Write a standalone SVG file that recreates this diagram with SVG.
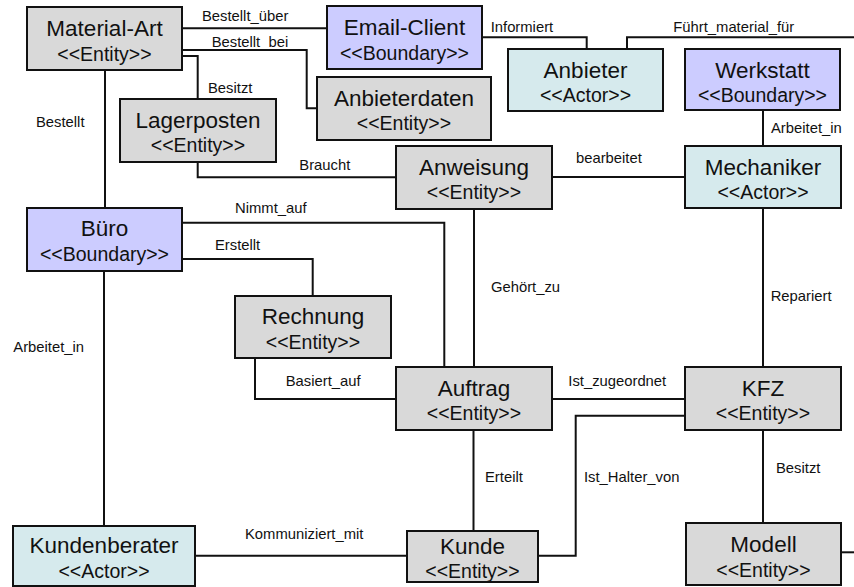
<svg xmlns="http://www.w3.org/2000/svg" width="854" height="587" viewBox="0 0 854 587">
  <style>
    .box { stroke: #111; stroke-width: 2; }
    .entity { fill: #d9d9d9; }
    .boundary { fill: #ccccff; }
    .actor { fill: #d6eaed; }
    .title { font-family: "Liberation Sans", Arial, sans-serif; font-size: 22.5px; fill: #111; text-anchor: middle; }
    .stereo { font-family: "Liberation Sans", Arial, sans-serif; font-size: 19.5px; fill: #111; text-anchor: middle; }
    .conn { fill: none; stroke: #111; stroke-width: 2; }
    .lbl { font-family: "Liberation Sans", Arial, sans-serif; font-size: 14.8px; fill: #111; }
  </style>
  <rect width="854" height="587" fill="#ffffff"/>

  <!-- connectors -->
  <g id="connectors">
    <path class="conn" d="M182,28.3 H327"/>
    <path class="conn" d="M182,50 H306.7 V108.3 H317"/>
    <path class="conn" d="M182,56 H197.7 V99"/>
    <path class="conn" d="M105,70 V208"/>
    <path class="conn" d="M197.7,162 V177.3 H396"/>
    <path class="conn" d="M482,37.3 H586.7 V49"/>
    <path class="conn" d="M627,49 V37.3 H854"/>
    <path class="conn" d="M763,110 V146"/>
    <path class="conn" d="M552,177 H685"/>
    <path class="conn" d="M474,209 V367"/>
    <path class="conn" d="M182,222.7 H444.3 V367"/>
    <path class="conn" d="M182,259 H312.7 V296"/>
    <path class="conn" d="M255,358 V399 H396"/>
    <path class="conn" d="M104,271 V526"/>
    <path class="conn" d="M763,208 V367"/>
    <path class="conn" d="M552,399 H685"/>
    <path class="conn" d="M538,555.7 H575.7 V415.7 H685"/>
    <path class="conn" d="M473.5,430 V531"/>
    <path class="conn" d="M763,430 V523"/>
    <path class="conn" d="M195,555.7 H407"/>
    <path class="conn" d="M841,552.3 H854"/>

    <text class="lbl" x="202" y="20.7">Bestellt_über</text>
    <text class="lbl" x="211.7" y="46.7">Bestellt_bei</text>
    <text class="lbl" x="208" y="93.3">Besitzt</text>
    <text class="lbl" x="36" y="127.3">Bestellt</text>
    <text class="lbl" x="299.3" y="170">Braucht</text>
    <text class="lbl" x="490.7" y="31.7">Informiert</text>
    <text class="lbl" x="673.3" y="31.7">Führt_material_für</text>
    <text class="lbl" x="771" y="133">Arbeitet_in</text>
    <text class="lbl" x="576" y="162.7">bearbeitet</text>
    <text class="lbl" x="235" y="212.7">Nimmt_auf</text>
    <text class="lbl" x="215" y="250">Erstellt</text>
    <text class="lbl" x="491" y="292.3">Gehört_zu</text>
    <text class="lbl" x="770.7" y="301">Repariert</text>
    <text class="lbl" x="13.3" y="352.3">Arbeitet_in</text>
    <text class="lbl" x="285.7" y="385.7">Basiert_auf</text>
    <text class="lbl" x="568.3" y="386">Ist_zugeordnet</text>
    <text class="lbl" x="485" y="482.3">Erteilt</text>
    <text class="lbl" x="584" y="482.3">Ist_Halter_von</text>
    <text class="lbl" x="776" y="473.3">Besitzt</text>
    <text class="lbl" x="245" y="539.3">Kommuniziert_mit</text>
  </g>

  <!-- nodes -->
  <g id="material-art">
    <rect class="box entity" x="27" y="7" width="155" height="63"/>
    <text class="title" x="104.5" y="35.5">Material-Art</text>
    <text class="stereo" x="104.5" y="60.5">&lt;&lt;Entity&gt;&gt;</text>
  </g>
  <g id="email-client">
    <rect class="box boundary" x="327" y="6" width="155" height="63"/>
    <text class="title" x="404.5" y="34.5">Email-Client</text>
    <text class="stereo" x="404.5" y="59.5">&lt;&lt;Boundary&gt;&gt;</text>
  </g>
  <g id="anbieter">
    <rect class="box actor" x="508" y="49" width="155" height="62"/>
    <text class="title" x="585.5" y="77.5">Anbieter</text>
    <text class="stereo" x="585.5" y="102">&lt;&lt;Actor&gt;&gt;</text>
  </g>
  <g id="werkstatt">
    <rect class="box boundary" x="685" y="49" width="155" height="61"/>
    <text class="title" x="762.5" y="77.5">Werkstatt</text>
    <text class="stereo" x="762.5" y="102">&lt;&lt;Boundary&gt;&gt;</text>
  </g>
  <g id="anbieterdaten">
    <rect class="box entity" x="317" y="77" width="174" height="63"/>
    <text class="title" x="404" y="105.5">Anbieterdaten</text>
    <text class="stereo" x="404" y="130">&lt;&lt;Entity&gt;&gt;</text>
  </g>
  <g id="lagerposten">
    <rect class="box entity" x="120" y="99" width="156" height="63"/>
    <text class="title" x="198" y="128">Lagerposten</text>
    <text class="stereo" x="198" y="152">&lt;&lt;Entity&gt;&gt;</text>
  </g>
  <g id="anweisung">
    <rect class="box entity" x="396" y="146" width="156" height="63"/>
    <text class="title" x="474" y="174.5">Anweisung</text>
    <text class="stereo" x="474" y="199">&lt;&lt;Entity&gt;&gt;</text>
  </g>
  <g id="mechaniker">
    <rect class="box actor" x="685" y="146" width="156" height="62"/>
    <text class="title" x="763" y="174.5">Mechaniker</text>
    <text class="stereo" x="763" y="199">&lt;&lt;Actor&gt;&gt;</text>
  </g>
  <g id="buero">
    <rect class="box boundary" x="27" y="208" width="155" height="63"/>
    <text class="title" x="104.5" y="236">Büro</text>
    <text class="stereo" x="104.5" y="261">&lt;&lt;Boundary&gt;&gt;</text>
  </g>
  <g id="rechnung">
    <rect class="box entity" x="235" y="296" width="156" height="62"/>
    <text class="title" x="313" y="324">Rechnung</text>
    <text class="stereo" x="313" y="348.5">&lt;&lt;Entity&gt;&gt;</text>
  </g>
  <g id="auftrag">
    <rect class="box entity" x="396" y="367" width="156" height="63"/>
    <text class="title" x="474" y="395.5">Auftrag</text>
    <text class="stereo" x="474" y="420">&lt;&lt;Entity&gt;&gt;</text>
  </g>
  <g id="kfz">
    <rect class="box entity" x="685" y="367" width="156" height="63"/>
    <text class="title" x="763" y="395.5">KFZ</text>
    <text class="stereo" x="763" y="420">&lt;&lt;Entity&gt;&gt;</text>
  </g>
  <g id="kundenberater">
    <rect class="box actor" x="13" y="526" width="182" height="60"/>
    <text class="title" x="104" y="553.3">Kundenberater</text>
    <text class="stereo" x="104" y="578">&lt;&lt;Actor&gt;&gt;</text>
  </g>
  <g id="kunde">
    <rect class="box entity" x="407" y="531" width="131" height="51"/>
    <text class="title" x="472.5" y="554">Kunde</text>
    <text class="stereo" x="472.5" y="577.5">&lt;&lt;Entity&gt;&gt;</text>
  </g>
  <g id="modell">
    <rect class="box entity" x="686" y="523" width="155" height="62"/>
    <text class="title" x="763.5" y="551.5">Modell</text>
    <text class="stereo" x="763.5" y="577">&lt;&lt;Entity&gt;&gt;</text>
  </g>
</svg>
